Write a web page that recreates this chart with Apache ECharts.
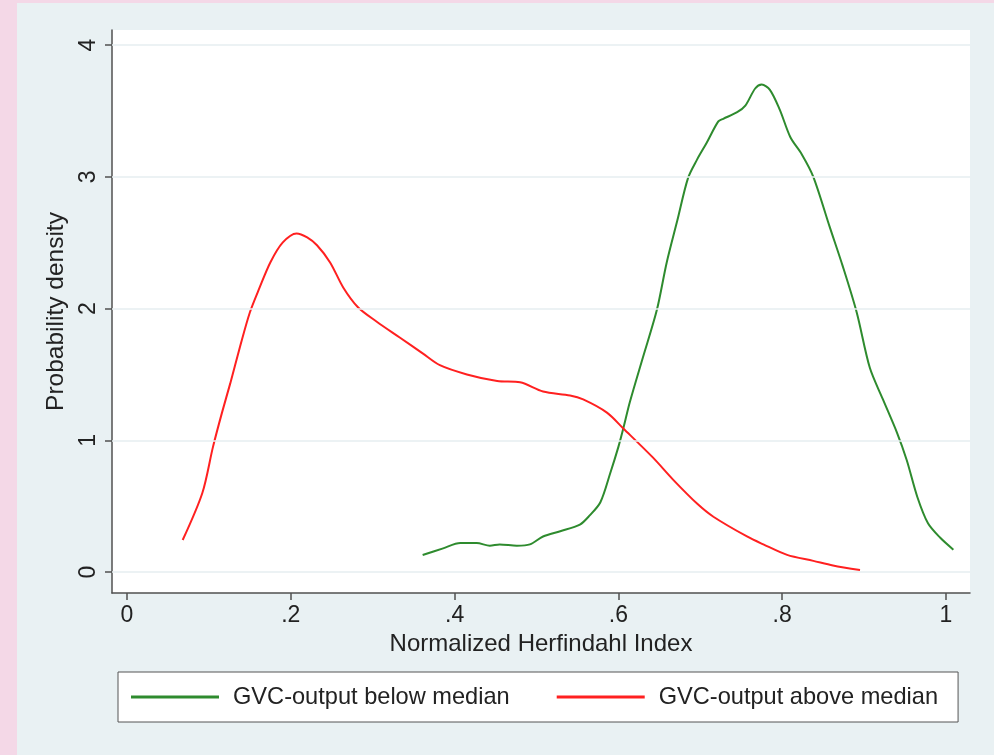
<!DOCTYPE html>
<html>
<head>
<meta charset="utf-8">
<script src="https://cdn.jsdelivr.net/npm/echarts@6/dist/echarts.min.js"></script>
<style>
html,body{margin:0;padding:0;background:#e9f1f3;}
#chart{width:994px;height:755px;}
</style>
</head>
<body>
<div id="chart"></div>
<script>
// Data
const belowX = [0.361,0.386,0.407,0.427,0.443,0.455,0.476,0.492,0.508,0.529,0.553,0.565,0.578,0.590,0.600,0.606,0.614,0.630,0.647,0.659,0.672,0.685,0.696,0.708,0.722,0.728,0.745,0.755,0.767,0.775,0.785,0.797,0.810,0.824,0.838,0.858,0.874,0.891,0.907,0.923,0.940,0.952,0.965,0.978,0.993,1.009];
const belowY = [0.129,0.18,0.22,0.22,0.20,0.21,0.20,0.21,0.27,0.31,0.36,0.43,0.53,0.75,0.95,1.09,1.29,1.63,1.99,2.35,2.67,2.99,3.13,3.26,3.42,3.44,3.49,3.54,3.67,3.70,3.66,3.51,3.30,3.17,3.00,2.62,2.32,1.97,1.55,1.31,1.06,0.85,0.57,0.37,0.26,0.17];
const aboveX = [0.068,0.092,0.105,0.116,0.126,0.138,0.150,0.162,0.175,0.190,0.207,0.220,0.232,0.248,0.264,0.282,0.305,0.333,0.361,0.382,0.415,0.452,0.480,0.508,0.541,0.557,0.586,0.606,0.642,0.667,0.696,0.716,0.757,0.777,0.806,0.838,0.862,0.895];
const aboveY = [0.243,0.60,0.95,1.21,1.43,1.71,1.97,2.16,2.35,2.50,2.57,2.54,2.48,2.35,2.16,2.01,1.90,1.78,1.66,1.57,1.50,1.45,1.44,1.37,1.34,1.31,1.21,1.09,0.87,0.70,0.52,0.42,0.27,0.21,0.13,0.085,0.05,0.015];
const seriesNames = ['GVC-output below median','GVC-output above median'];
const xTicks = [0,0.2,0.4,0.6,0.8,1];
const xTickLabels = ['0','.2','.4','.6','.8','1'];
const yTicks = [0,1,2,3,4];
const yTickLabels = ['0','1','2','3','4'];
const xTitle = 'Normalized Herfindahl Index';
const yTitle = 'Probability density';

const pairs = (xs, ys) => xs.map((x,i)=>[x, ys[i]]);
const FONT = '"Liberation Sans", Arial, sans-serif';
const AXC = '#505050';

const chart = echarts.init(document.getElementById('chart'), null, {renderer:'canvas'});
chart.setOption({
  backgroundColor: '#e9f1f3',
  animation: false,
  textStyle: {fontFamily: FONT},
  graphic: [
    {type:'rect', left:0, top:0, shape:{width:17, height:755}, style:{fill:'#f4d8e7'}, z:100},
    {type:'rect', left:0, top:0, shape:{width:994, height:3}, style:{fill:'#f4d8e7'}, z:100}
  ],
  grid: {left:112, right:24, top:30, bottom:162, show:true, backgroundColor:'#ffffff', borderWidth:0},
  xAxis: {
    type:'value', min:-0.0183, max:1.0293,
    name: xTitle, nameLocation:'middle', nameGap:37,
    nameTextStyle:{fontSize:24, color:'#222', fontFamily:FONT},
    axisLine:{show:true, onZero:false, lineStyle:{color:AXC, width:1.5}},
    axisTick:{show:true, length:7, customValues:xTicks, lineStyle:{color:AXC, width:1.5}},
    axisLabel:{customValues:xTicks, fontSize:23, color:'#222', margin:11, fontFamily:FONT,
      formatter:(v)=>{const i=xTicks.findIndex(t=>Math.abs(t-v)<1e-9); return i>=0?xTickLabels[i]:'';}},
    splitLine:{show:false}
  },
  yAxis: {
    type:'value', min:-0.159, max:4.114,
    name: yTitle, nameLocation:'middle', nameGap:41, nameRotate:90,
    nameTextStyle:{fontSize:24.5, color:'#222', fontFamily:FONT},
    axisLine:{show:true, onZero:false, lineStyle:{color:AXC, width:1.5}},
    axisTick:{show:true, length:7, customValues:yTicks, lineStyle:{color:AXC, width:1.5}},
    axisLabel:{customValues:yTicks, rotate:90, fontSize:23, color:'#222', margin:12, fontFamily:FONT,
      formatter:(v)=>{const i=yTicks.findIndex(t=>Math.abs(t-v)<1e-9); return i>=0?yTickLabels[i]:'';}},
    splitLine:{show:false}
  },
  legend: {
    left:118, top:672,
    padding:[12,20,12,13],
    backgroundColor:'#ffffff', borderColor:'#555', borderWidth:1,
    itemGap:47, itemWidth:88, itemHeight:3, icon:'rect',
    textStyle:{fontSize:23.6, color:'#222', fontFamily:FONT, padding:[0,0,0,9], lineHeight:26},
    data: seriesNames
  },
  series: [
    {
      name:'grid', type:'line', data:[], silent:true, z:1,
      markLine:{silent:true, symbol:['none','none'], label:{show:false},
        lineStyle:{color:'#e6eef0', width:1.5, type:'solid'},
        data: yTicks.map(v=>({yAxis:v}))}
    },
    {
      name: seriesNames[0], type:'line', data: pairs(belowX, belowY),
      smooth:0.3, showSymbol:false, z:3,
      lineStyle:{color:'#2e8b2e', width:2}, itemStyle:{color:'#2e8b2e'}
    },
    {
      name: seriesNames[1], type:'line', data: pairs(aboveX, aboveY),
      smooth:0.3, showSymbol:false, z:3,
      lineStyle:{color:'#ff2020', width:2}, itemStyle:{color:'#ff2020'}
    }
  ]
});
</script>
</body>
</html>
